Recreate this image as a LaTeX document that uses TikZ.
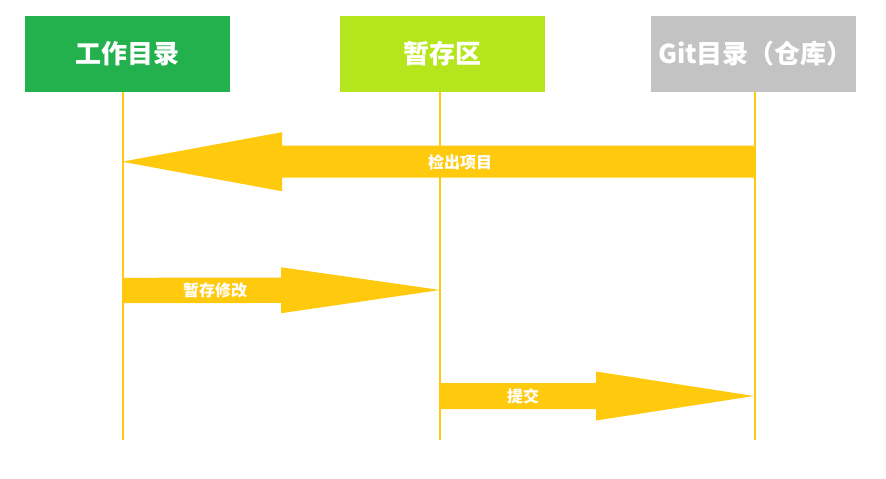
\documentclass[tikz,border=0pt]{standalone}
\usepackage{fontspec}
\newfontfamily\cjk{Noto Sans CJK SC}
\usetikzlibrary{calc}
\definecolor{workcol}{RGB}{34,177,76}
\definecolor{stagecol}{RGB}{181,230,29}
\definecolor{repocol}{RGB}{195,195,195}
\definecolor{flowcol}{RGB}{255,201,14}

% fat arrow: #1 tail, #2 tip, #3 shaft half width, #4 head half width, #5 head length
\newcommand\flowarrow[5]{%
  \fill[flow] ($(#1)+(0,#3)$) -- ($(#2)!#5!(#1)+(0,#3)$) -- ($(#2)!#5!(#1)+(0,#4)$)
    -- (#2) -- ($(#2)!#5!(#1)+(0,-#4)$) -- ($(#2)!#5!(#1)+(0,-#3)$) -- ($(#1)+(0,-#3)$) -- cycle;}

\begin{document}
\begin{tikzpicture}[x=1pt, y=-1pt, font=\cjk\bfseries,
    header/.style={minimum width=205pt, minimum height=76pt, inner sep=0pt, text=white,
      font=\cjk\bfseries\fontsize{26}{30}\selectfont},
    lifeline/.style={draw=flowcol, line width=2.6pt},
    flow/.style={fill=flowcol},
    tag/.style={text=white, inner sep=0pt, font=\cjk\bfseries\fontsize{16}{19}\selectfont}]
	\useasboundingbox (0,0) rectangle (886,479);

	% columns
	\node[header, fill=workcol] (work) at (127.5,54) {工作目录};
	\node[header, fill=stagecol] (stage) at (442.5,54) {暂存区};
	\node[header, fill=repocol] (repo) at (753.5,54) {\hspace{4pt}Git目录（仓库）};

	% lifelines
	\coordinate (work top) at (123,92);   \coordinate (work bot) at (123,440);
	\coordinate (stage top) at (440,92);  \coordinate (stage bot) at (440,440);
	\coordinate (repo top) at (755,92);   \coordinate (repo bot) at (755,440);
	\draw[lifeline] (work top) -- (work bot);
	\draw[lifeline] (stage top) -- (stage bot);
	\draw[lifeline] (repo top) -- (repo bot);

	% checkout
	\coordinate (checkout tail) at (755,161.7);
	\coordinate (checkout tip) at (122,161.7);
	\flowarrow{checkout tail}{checkout tip}{16}{29.5}{160pt}
	\node[tag] (checkout) at (460,162) {检出项目};

	% stage changes
	\coordinate (add tail) at (123,290.5);
	\coordinate (add tip) at (440,290);
	\flowarrow{add tail}{add tip}{12.7}{23}{159pt}
	\node[tag] (add) at (215,290.5) {暂存修改};

	% commit
	\coordinate (commit tail) at (440,396);
	\coordinate (commit tip) at (754,396);
	\flowarrow{commit tail}{commit tip}{13}{24.5}{158pt}
	\node[tag] (commit) at (523,396) {提交};
\end{tikzpicture}
\end{document}
